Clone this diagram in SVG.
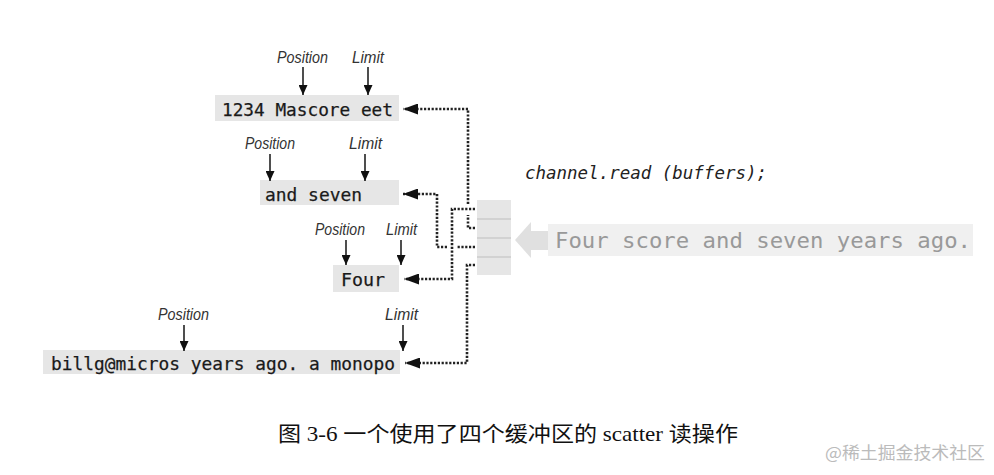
<svg xmlns="http://www.w3.org/2000/svg" width="994" height="475" viewBox="0 0 994 475">
<style>
.box{fill:#e6e6e6}
.mono{font-family:"DejaVu Sans Mono","Liberation Mono",monospace;font-size:18.5px;fill:#1a1a1a;stroke:#1a1a1a;stroke-width:0.25}
.lbl{font-family:"Liberation Sans","DejaVu Sans",sans-serif;font-style:italic;font-size:16.5px;fill:#333}
.down{stroke:#222;stroke-width:1.6;fill:none;marker-end:url(#dh)}
.conn{stroke:#222;stroke-width:2.6;fill:none;stroke-dasharray:2.2 1.6}
.div{stroke:#bdbdbd;stroke-width:1.2}
</style>
<defs>
<marker id="dh" viewBox="0 0 10 9" refX="10" refY="4.5" markerWidth="10" markerHeight="9" markerUnits="userSpaceOnUse" orient="auto"><path d="M0,0 L10,4.5 L0,9 Z" fill="#111"/></marker>
<marker id="lh" viewBox="0 0 15 11" refX="15" refY="5.5" markerWidth="15" markerHeight="11" markerUnits="userSpaceOnUse" orient="auto"><path d="M0,0 L15,5.5 L0,11 Z" fill="#111"/></marker>
</defs>
<rect width="994" height="475" fill="#fff"/>

<g id="buffer1">
<rect class="box" x="215" y="95" width="184" height="26"/>
<text class="mono" x="222" y="116" textLength="171" lengthAdjust="spacingAndGlyphs">1234 Mascore eet</text>
<text class="lbl" x="277" y="63" textLength="51" lengthAdjust="spacingAndGlyphs">Position</text>
<text class="lbl" x="352" y="63" textLength="32" lengthAdjust="spacingAndGlyphs">Limit</text>
<line class="down" x1="303" y1="67" x2="303" y2="95"/>
<line class="down" x1="368" y1="67" x2="368" y2="95"/>
</g>

<g id="buffer2">
<rect class="box" x="260" y="180" width="139" height="25"/>
<text class="mono" x="265" y="201" textLength="97" lengthAdjust="spacingAndGlyphs">and seven</text>
<text class="lbl" x="245" y="149" textLength="50" lengthAdjust="spacingAndGlyphs">Position</text>
<text class="lbl" x="349" y="149" textLength="33" lengthAdjust="spacingAndGlyphs">Limit</text>
<line class="down" x1="270" y1="154" x2="270" y2="181"/>
<line class="down" x1="365" y1="154" x2="365" y2="181"/>
</g>

<g id="buffer3">
<rect class="box" x="333" y="265" width="66" height="27"/>
<text class="mono" x="341" y="286" textLength="44" lengthAdjust="spacingAndGlyphs">Four</text>
<text class="lbl" x="315" y="235" textLength="50" lengthAdjust="spacingAndGlyphs">Position</text>
<text class="lbl" x="386" y="235" textLength="31" lengthAdjust="spacingAndGlyphs">Limit</text>
<line class="down" x1="346" y1="240" x2="346" y2="265"/>
<line class="down" x1="401" y1="240" x2="401" y2="265"/>
</g>

<g id="buffer4">
<rect class="box" x="43" y="350" width="357" height="24"/>
<text class="mono" x="51" y="370" textLength="344" lengthAdjust="spacingAndGlyphs">billg@micros years ago. a monopo</text>
<text class="lbl" x="158" y="320" textLength="51" lengthAdjust="spacingAndGlyphs">Position</text>
<text class="lbl" x="385" y="320" textLength="33" lengthAdjust="spacingAndGlyphs">Limit</text>
<line class="down" x1="184" y1="325" x2="184" y2="351"/>
<line class="down" x1="403" y1="325" x2="403" y2="351"/>
</g>

<g id="buffer-array">
<rect class="box" x="477" y="200" width="34" height="75"/>
<line class="div" x1="477" y1="219" x2="511" y2="219"/>
<line class="div" x1="477" y1="238" x2="511" y2="238"/>
<line class="div" x1="477" y1="257" x2="511" y2="257"/>
</g>

<g id="channel-read">
<text x="525" y="179" font-family="DejaVu Sans Mono, Liberation Mono, monospace" font-style="italic" font-size="18" fill="#222" textLength="242" lengthAdjust="spacingAndGlyphs">channel.read (buffers);</text>
</g>

<g id="source">
<polygon points="515,240 531,222 531,231 550,231 550,250 531,250 531,258" fill="#e0e0e0"/>
<rect x="548" y="224" width="425" height="32" fill="#f0f0f0"/>
<text x="555" y="248" font-family="DejaVu Sans Mono, Liberation Mono, monospace" font-size="22" fill="#999" textLength="416" lengthAdjust="spacingAndGlyphs">Four score and seven years ago.</text>
</g>

<g id="connectors">
<path class="conn" d="M475,228 H468 V215 M468,204 V109 H403" marker-end="url(#lh)"/>
<path class="conn" d="M475,247 H457 M447,247 H437 V194 H403" marker-end="url(#lh)"/>
<path class="conn" d="M475,209 H452 V279 H404" marker-end="url(#lh)"/>
<path class="conn" d="M475,265 H467 V363 H405" marker-end="url(#lh)"/>
</g>

<g id="caption">
<text x="278" y="441" font-family="Liberation Serif, Noto Sans CJK SC, serif" font-size="21" fill="#111" textLength="460" lengthAdjust="spacingAndGlyphs">图 3-6 一个使用了四个缓冲区的 scatter 读操作</text>
</g>

<g id="watermark">
<text x="825" y="459" font-family="Noto Sans CJK SC, sans-serif" font-size="17" fill="#bbb" textLength="160" lengthAdjust="spacingAndGlyphs">@稀土掘金技术社区</text>
</g>
</svg>
